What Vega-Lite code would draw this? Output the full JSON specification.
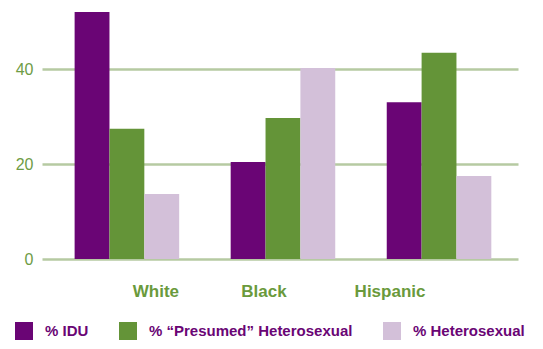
{
  "$schema": "https://vega.github.io/schema/vega-lite/v6.json",
  "autosize": {"type": "none"},
  "width": 476,
  "height": 247,
  "padding": {"left": 42, "top": 12, "right": 25, "bottom": 90},
  "background": "white",
  "data": {
    "values": [
      {"group": "White", "series": "% IDU", "value": 52},
      {"group": "White", "series": "% “Presumed” Heterosexual", "value": 27.4},
      {"group": "White", "series": "% Heterosexual", "value": 13.7},
      {"group": "Black", "series": "% IDU", "value": 20.4},
      {"group": "Black", "series": "% “Presumed” Heterosexual", "value": 29.7},
      {"group": "Black", "series": "% Heterosexual", "value": 40.2},
      {"group": "Hispanic", "series": "% IDU", "value": 33},
      {"group": "Hispanic", "series": "% “Presumed” Heterosexual", "value": 43.4},
      {"group": "Hispanic", "series": "% Heterosexual", "value": 17.5}
    ]
  },
  "mark": {"type": "bar"},
  "encoding": {
    "x": {
      "field": "group",
      "type": "nominal",
      "sort": ["White", "Black", "Hispanic"],
      "scale": {"paddingInner": 0.33, "paddingOuter": 0.19, "align": 0.55},
      "axis": {
        "title": null,
        "domain": false,
        "ticks": false,
        "labelAngle": 0,
        "labelPadding": 24,
        "labelOffset": {
          "condition": [
            {"test": "datum.value === 'White'", "value": 29},
            {"test": "datum.value === 'Black'", "value": -19}
          ],
          "value": -49
        },
        "labelFont": "Liberation Sans",
        "labelFontWeight": "bold",
        "labelFontSize": 17,
        "labelColor": "#6a9a3c"
      }
    },
    "xOffset": {
      "field": "series",
      "type": "nominal",
      "sort": ["% IDU", "% “Presumed” Heterosexual", "% Heterosexual"],
      "scale": {"paddingInner": 0, "paddingOuter": 0}
    },
    "y": {
      "field": "value",
      "type": "quantitative",
      "scale": {"domain": [0, 52], "nice": false},
      "axis": {
        "title": null,
        "values": [0, 20, 40],
        "domain": false,
        "ticks": false,
        "grid": true,
        "gridColor": "#b6caa2",
        "gridWidth": 2.5,
        "labelPadding": 9,
        "labelFont": "Liberation Sans",
        "labelFontSize": 16,
        "labelColor": "#6e9c45"
      }
    },
    "color": {
      "field": "series",
      "type": "nominal",
      "scale": {
        "domain": ["% IDU", "% “Presumed” Heterosexual", "% Heterosexual"],
        "range": ["#6a0575", "#649438", "#d3c0d9"]
      },
      "legend": {
        "title": null,
        "orient": "none",
        "direction": "horizontal",
        "legendX": -27,
        "legendY": 310,
        "symbolType": "square",
        "symbolSize": 324,
        "symbolStrokeWidth": 0,
        "symbolOpacity": 1,
        "labelFont": "Liberation Sans",
        "labelFontWeight": "bold",
        "labelFontSize": 15,
        "labelColor": "#6a0575",
        "labelOffset": 12,
        "columnPadding": 30,
        "labelLimit": 400
      }
    }
  },
  "config": {"view": {"stroke": null}}
}
